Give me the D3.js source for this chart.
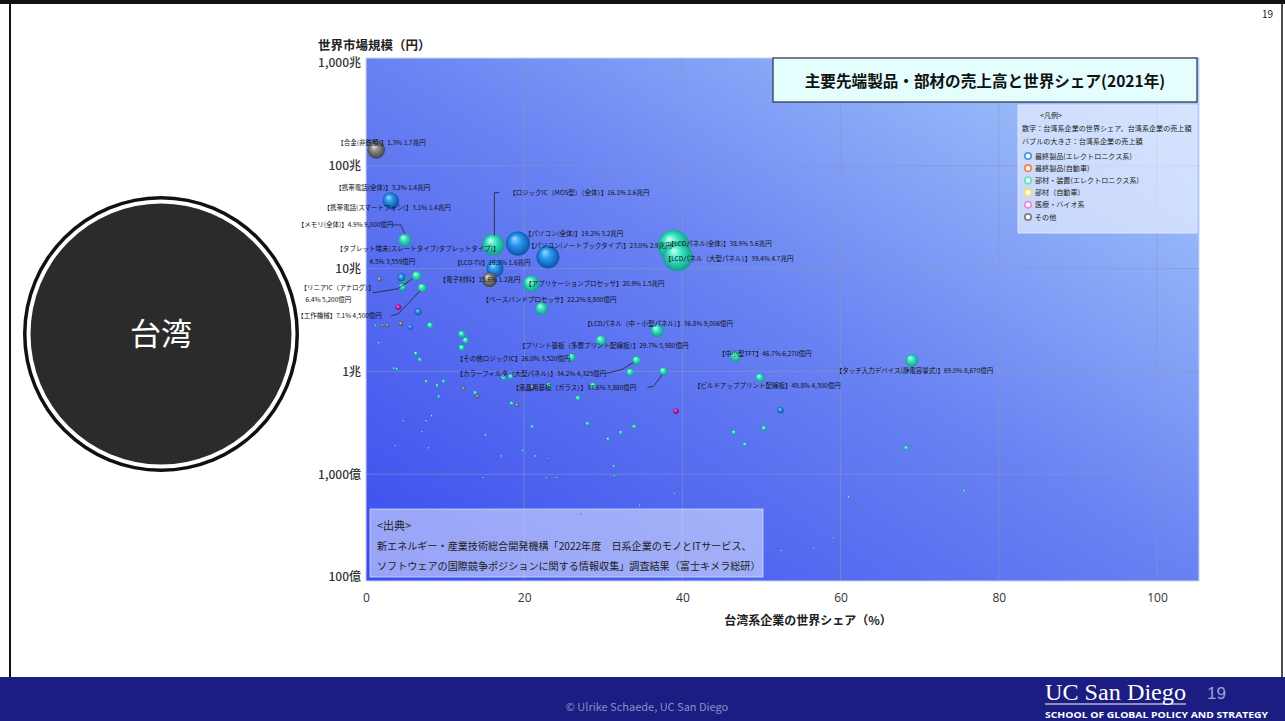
<!DOCTYPE html>
<html>
<head>
<meta charset="utf-8">
<script src="https://cdn.jsdelivr.net/npm/d3@7"></script>
<style>
  body { margin: 0; background: #fff; }
  text { font-family: "Noto Sans CJK JP", "Noto Sans", sans-serif; }
</style>
</head>
<body>
<div id="chart"></div>
<script>
// ---- data ----
const yTickValues = [1000, 100, 10, 1, 0.1, 0.01];   // 兆円
const yTickLabels = ["1,000兆", "100兆", "10兆", "1兆", "1,000億", "100億"];
const xTickValues = [0, 20, 40, 60, 80, 100];

// labelled products: name, Taiwan share (%), world market (兆円), Taiwan sales (億円), category
const names = [
  "【合金(非鉄類)】", "【携帯電話(全体)】", "【携帯電話(スマートフォン)】", "【メモリ(全体)】",
  "【タブレット端末(スレートタイプ/タブレットタイプ)】", "【ロジックIC（MOS型）（全体）】",
  "【パソコン(全体)】", "【パソコン(ノートブックタイプ)】", "【LCDパネル(全体)】",
  "【LCDパネル（大型パネル）】", "【LCD-TV】", "【電子材料】", "【アプリケーションプロセッサ】",
  "【ベースバンドプロセッサ】", "【LCDパネル（中・小型パネル）】", "【プリント基板（多層プリント配線板）】",
  "【その他ロジックIC】", "【カラーフィルタ（大型パネル）】", "【液晶用基板（ガラス）】", "【中小型TFT】",
  "【ビルドアッププリント配線板】", "【タッチ入力デバイス(静電容量式)】", "【リニアIC（アナログ）】", "【工作機械】"
];
const shares  = [1.3, 3.2, 3.1, 4.9, 4.5, 16.1, 19.2, 23.0, 38.9, 39.4, 16.3, 15.6, 20.9, 22.2, 36.8, 29.7, 26.0, 34.2, 37.6, 46.7, 49.8, 69.0, 6.4, 7.1];
const markets = [143, 45, 46, 19, 8.2, 17.1, 17.5, 13.0, 16.7, 13.1, 10.0, 7.8, 7.15, 4.1, 2.5, 2.0, 1.37, 1.28, 1.0, 1.4, 0.87, 1.28, 8.5, 6.5];
const sales   = [17000, 14000, 14000, 9000, 3559, 26000, 32000, 29000, 56000, 47000, 16000, 12000, 15000, 8800, 9006, 5980, 3520, 4325, 3880, 6270, 4300, 8670, 5200, 4500];
const cats    = ["g", "b", "b", "t", "b", "t", "b", "b", "t", "t", "b", "g", "t", "t", "t", "t", "t", "t", "t", "t", "t", "t", "t", "t"];

// unlabelled products: [share %, market 兆円, sales 億円, category]
const smallDots = [
  [1.7, 7.9, 1300, "g"], [4.7, 7.9, 3700, "t"], [4.6, 6.6, 3000, "t"], [4.1, 4.2, 1700, "m"],
  [6.6, 3.8, 2500, "b"], [1.2, 2.8, 340, "t"], [2.1, 2.8, 600, "g"], [2.7, 2.8, 760, "g"],
  [4.4, 2.9, 1250, "g"], [5.6, 2.7, 1500, "b"], [8.1, 2.8, 2300, "t"], [12.1, 2.3, 2800, "t"],
  [12.6, 2.0, 2500, "t"], [12.1, 1.7, 2100, "t"], [1.6, 1.9, 300, "t"], [6.3, 1.5, 960, "t"],
  [6.8, 1.3, 900, "t"], [3.5, 1.07, 370, "t"], [3.9, 1.05, 400, "t"], [7.6, 0.8, 610, "t"],
  [9.0, 0.73, 660, "t"], [9.8, 0.8, 780, "t"], [17.4, 0.87, 1500, "t"], [18.3, 0.89, 1600, "t"],
  [12.3, 0.68, 840, "g"], [13.8, 0.62, 860, "t"], [14.1, 0.57, 800, "g"], [18.4, 0.49, 900, "t"],
  [19.1, 0.47, 890, "g"], [21.0, 0.70, 1470, "g"], [23.1, 0.73, 1690, "t"], [28.7, 0.73, 2100, "t"],
  [26.8, 0.55, 1460, "t"], [9.2, 0.57, 500, "t"], [33.4, 0.98, 3300, "t"], [39.2, 0.41, 1600, "m"],
  [52.4, 0.42, 2200, "b"], [46.5, 0.255, 1200, "t"], [47.9, 0.195, 930, "t"], [50.3, 0.28, 1400, "t"],
  [68.3, 0.18, 1240, "t"], [4.7, 0.33, 160, "t"], [7.6, 0.33, 250, "t"], [8.3, 0.37, 300, "t"],
  [7.1, 0.26, 180, "t"], [15.1, 0.24, 360, "t"], [21.0, 0.29, 610, "t"], [28.0, 0.31, 870, "t"],
  [30.6, 0.22, 680, "t"], [32.2, 0.255, 820, "t"], [33.9, 0.29, 990, "t"], [17.1, 0.15, 260, "t"],
  [17.9, 0.12, 210, "g"], [19.8, 0.17, 340, "t"], [21.4, 0.15, 320, "t"], [23.1, 0.14, 320, "g"],
  [24.1, 0.093, 220, "t"], [31.3, 0.12, 380, "t"], [22.8, 0.093, 210, "t"], [3.7, 0.19, 70, "t"],
  [7.9, 0.18, 140, "t"], [14.8, 0.093, 140, "t"], [39.0, 0.065, 250, "t"], [61.0, 0.06, 360, "t"],
  [34.6, 0.05, 170, "t"], [27.2, 0.041, 110, "t"], [75.6, 0.069, 520, "t"], [59.1, 0.024, 140, "t"],
  [52.5, 0.018, 96, "t"], [56.6, 0.019, 100, "t"], [31.4, 0.097, 300, "t"]
];

const legendLabels = ["最終製品(エレクトロニクス系)", "最終製品(自動車)", "部材・装置(エレクトロニクス系)", "部材（自動車）", "医療・バイオ系", "その他"];
const legendColors = ["#4a9ae0", "#f08a50", "#6ee0c0", "#f0e860", "#f08ad8", "#808080"];

// label placement relative to bubble centre (px); l2 = second line, leader = polyline
const labelLayout = [
  {dx: -39, dy: -7}, {dx: -56, dy: -14}, {dx: -67, dy: 7},
  {dx: -107, dy: -15, leader: [[-13, -15], [-4, -15], [0, -6]]},
  {dx: -65, dy: -29, l2: [-32, -16]},
  {dx: 16, dy: -52, leader: [[6, -52], [1, -52], [1, -9]]},
  {dx: 7, dy: -10}, {dx: -20, dy: -11}, {dx: -6, dy: -2}, {dx: -13, dy: 2},
  {dx: -41, dy: -6}, {dx: -50, dy: 0}, {dx: -6, dy: 0}, {dx: -59, dy: -9},
  {dx: -73, dy: -7}, {dx: -82, dy: 5}, {dx: -115, dy: 1},
  {dx: -180, dy: 13, leader: [[-31, 13], [-14, 9], [-3, 2]]},
  {dx: -151, dy: 16, leader: [[-16, 16], [-10, 15], [-1, 3]]},
  {dx: -17, dy: -3}, {dx: -66, dy: 8}, {dx: -76, dy: 10},
  {dx: -116, dy: 12, l2: [-111, 24], leader: [[-44, 17], [-19, 13], [-4, 3]]},
  {dx: -125, dy: 28, leader: [[-31, 28], [-24, 26], [-2, 3]]}
];

// ---- drawing ----
const W = 1285, H = 721;
const svg = d3.select("#chart").append("svg").attr("width", W).attr("height", H);
const defs = svg.append("defs");

// slide frame
svg.append("rect").attr("x", 0).attr("y", 0).attr("width", W).attr("height", 4).attr("fill", "#111");
svg.append("line").attr("x1", 10).attr("x2", 10).attr("y1", 0).attr("y2", 677).attr("stroke", "#111").attr("stroke-width", 2);
svg.append("line").attr("x1", 1282).attr("x2", 1282).attr("y1", 0).attr("y2", 677).attr("stroke", "#111").attr("stroke-width", 1.5);
svg.append("text").attr("x", 1262).attr("y", 18).attr("font-size", 10).attr("fill", "#222").text("19");

// plot area
const plot = {left: 366, right: 1199, top: 58, bottom: 581};
const x = d3.scaleLinear().domain([0, 100]).range([366, 1157]);
const y = d3.scaleLog().domain([0.01, 1000]).range([577, 63]);
const r = d3.scaleSqrt().domain([0, 56000]).range([0, 16]);

const bg = defs.append("linearGradient").attr("id", "bg")
  .attr("x1", 0).attr("y1", 1).attr("x2", 1).attr("y2", 0);
bg.append("stop").attr("offset", "0%").attr("stop-color", "#3a4cee");
bg.append("stop").attr("offset", "50%").attr("stop-color", "#6882f2");
bg.append("stop").attr("offset", "100%").attr("stop-color", "#abd0fc");

svg.append("rect")
  .attr("x", plot.left).attr("y", plot.top)
  .attr("width", plot.right - plot.left).attr("height", plot.bottom - plot.top)
  .attr("fill", "url(#bg)")
  .attr("stroke", "#c8d4f4").attr("stroke-width", 1);

// gridlines
svg.append("g")
  .selectAll("line.v").data(xTickValues.slice(1)).join("line")
  .attr("x1", d => x(d)).attr("x2", d => x(d))
  .attr("y1", plot.top).attr("y2", plot.bottom)
  .attr("stroke", "#8d97b8").attr("stroke-opacity", 0.55).attr("stroke-width", 1);
svg.append("g")
  .selectAll("line.h").data(yTickValues.slice(1, 5)).join("line")
  .attr("x1", plot.left).attr("x2", plot.right)
  .attr("y1", d => y(d)).attr("y2", d => y(d))
  .attr("stroke", "#8d97b8").attr("stroke-opacity", 0.55).attr("stroke-width", 1);

// axes
const yAxis = svg.append("g").attr("transform", `translate(${plot.left},0)`)
  .call(d3.axisLeft(y).tickValues(yTickValues).tickSize(0).tickPadding(5)
    .tickFormat((d, i) => yTickLabels[i]));
yAxis.select(".domain").remove();
yAxis.selectAll("text").attr("font-size", 12).attr("fill", "#333").attr("font-weight", 500)
  .style("font-family", '"Noto Sans CJK JP", sans-serif');

const xAxis = svg.append("g").attr("transform", `translate(0,${plot.bottom})`)
  .call(d3.axisBottom(x).tickValues(xTickValues).tickSize(0).tickPadding(12));
xAxis.select(".domain").remove();
xAxis.selectAll("text").attr("font-size", 12).attr("fill", "#333")
  .style("font-family", '"Open Sans", sans-serif');

svg.append("text").attr("x", 318).attr("y", 50).attr("font-size", 12.5).attr("font-weight", 700)
  .attr("fill", "#222").text("世界市場規模（円）");
svg.append("text").attr("x", 808).attr("y", 625).attr("text-anchor", "middle")
  .attr("font-size", 12).attr("font-weight", 700).attr("fill", "#222").text("台湾系企業の世界シェア（%）");

// sphere gradients
const sphere = {
  b: ["#9fdcff", "#2a98f0", "#0b4aa0"],
  t: ["#d0fff2", "#3be6c4", "#0e9484"],
  g: ["#e4e4e4", "#8c8c8c", "#383838"],
  m: ["#ffb8ea", "#e21ea8", "#7a0050"]
};
Object.entries(sphere).forEach(([k, c]) => {
  const g = defs.append("radialGradient").attr("id", "sp-" + k)
    .attr("cx", "50%").attr("cy", "50%").attr("r", "55%").attr("fx", "35%").attr("fy", "28%");
  g.append("stop").attr("offset", "0%").attr("stop-color", c[0]);
  g.append("stop").attr("offset", "40%").attr("stop-color", c[1]);
  g.append("stop").attr("offset", "100%").attr("stop-color", c[2]);
});

// source box
svg.append("rect").attr("x", 370).attr("y", 509).attr("width", 393).attr("height", 68)
  .attr("fill", "#e4ebff").attr("fill-opacity", 0.55).attr("stroke", "#dfe6ff").attr("stroke-opacity", 0.7);
const src = ["<出典>",
  "新エネルギー・産業技術総合開発機構「2022年度　日系企業のモノとITサービス、",
  "ソフトウェアの国際競争ポジションに関する情報収集」調査結果（富士キメラ総研）"];
svg.append("g").selectAll("text").data(src).join("text")
  .attr("x", 377).attr("y", (d, i) => 530 + i * 20)
  .attr("font-size", (d, i) => i === 0 ? 11 : 10.1).attr("fill", "#222").text(d => d);

// bubbles: unlabelled first, then labelled (large first)
const dots = smallDots.map(d => ({share: d[0], market: d[1], sales: d[2], cat: d[3]}));
const labelled = names.map((n, i) => ({
  name: n, share: shares[i], market: markets[i], sales: sales[i], cat: cats[i], lay: labelLayout[i]
}));
const allBubbles = dots.concat(labelled).sort((a, b) => b.sales - a.sales);

svg.append("g").selectAll("circle").data(allBubbles).join("circle")
  .attr("cx", d => x(d.share)).attr("cy", d => y(d.market))
  .attr("r", d => Math.max(1, r(d.sales)))
  .attr("fill", d => `url(#sp-${d.cat})`);

// labels + leaders
const fmtSales = v => v >= 10000 ? (v / 10000).toFixed(1) + "兆円" : d3.format(",")(v) + "億円";
const lab = svg.append("g");
labelled.forEach(d => {
  const cx = x(d.share), cy = y(d.market), L = d.lay;
  const tail = d.share.toFixed(1) + "% " + fmtSales(d.sales);
  if (L.l2) {
    lab.append("text").attr("x", cx + L.dx).attr("y", cy + L.dy + 2.3)
      .attr("font-size", 6.5).attr("fill", "#111").text(d.name);
    lab.append("text").attr("x", cx + L.l2[0]).attr("y", cy + L.l2[1] + 2.3)
      .attr("font-size", 6.5).attr("fill", "#111").text(tail);
  } else {
    lab.append("text").attr("x", cx + L.dx).attr("y", cy + L.dy + 2.3)
      .attr("font-size", 6.5).attr("fill", "#111").text(d.name + tail);
  }
  if (L.leader) {
    lab.append("path")
      .attr("d", d3.line()(L.leader.map(p => [cx + p[0], cy + p[1]])))
      .attr("fill", "none").attr("stroke", "#2a2a3a").attr("stroke-width", 0.9);
  }
});

// title box
svg.append("rect").attr("x", 773).attr("y", 58).attr("width", 424).attr("height", 44)
  .attr("fill", "#e4fdfd").attr("stroke", "#2a2f45").attr("stroke-width", 1.2);
svg.append("text").attr("x", 985).attr("y", 87).attr("text-anchor", "middle")
  .attr("font-size", 15.6).attr("font-weight", 700).attr("fill", "#111")
  .text("主要先端製品・部材の売上高と世界シェア(2021年)");

// legend box
svg.append("rect").attr("x", 1018).attr("y", 105).attr("width", 179).attr("height", 128)
  .attr("fill", "#f2f6ff").attr("fill-opacity", 0.62).attr("stroke", "#e8eeff").attr("stroke-opacity", 0.8);
const lg = svg.append("g").attr("font-size", 7.1).attr("fill", "#222");
lg.append("text").attr("x", 1040).attr("y", 118).text("<凡例>");
lg.append("text").attr("x", 1022).attr("y", 131).text("数字：台湾系企業の世界シェア、台湾系企業の売上額");
lg.append("text").attr("x", 1022).attr("y", 144).text("バブルの大きさ：台湾系企業の売上額");
legendLabels.forEach((t, i) => {
  lg.append("circle").attr("cx", 1028).attr("cy", 156 + i * 12.2).attr("r", 3.2)
    .attr("fill", "#fff").attr("stroke", legendColors[i]).attr("stroke-width", 1.8);
  lg.append("text").attr("x", 1035).attr("y", 158.5 + i * 12.2).text(t);
});

// big circle badge
svg.append("circle").attr("cx", 161).attr("cy", 334).attr("r", 138).attr("fill", "#111");
svg.append("circle").attr("cx", 161).attr("cy", 334).attr("r", 134.5).attr("fill", "#fff");
svg.append("circle").attr("cx", 161).attr("cy", 334).attr("r", 130.5).attr("fill", "#2b2b2b");
svg.append("text").attr("x", 161).attr("y", 345).attr("text-anchor", "middle")
  .attr("font-size", 31).attr("fill", "#fff").text("台湾");

// footer
svg.append("rect").attr("x", 0).attr("y", 677).attr("width", W).attr("height", 44).attr("fill", "#1c1d82");
svg.append("text").attr("x", 647).attr("y", 711).attr("text-anchor", "middle")
  .attr("font-size", 11).attr("fill", "#8b8fc4").text("© Ulrike Schaede, UC San Diego");
svg.append("text").attr("x", 1045).attr("y", 700).attr("font-size", 24)
  .attr("textLength", 141).attr("lengthAdjust", "spacingAndGlyphs")
  .style("font-family", '"Liberation Serif", serif').attr("fill", "#fff").text("UC San Diego");
svg.append("line").attr("x1", 1045).attr("x2", 1186).attr("y1", 704).attr("y2", 704)
  .attr("stroke", "#fff").attr("stroke-width", 1.2);
svg.append("text").attr("x", 1207).attr("y", 699).attr("font-size", 17)
  .style("font-family", '"Liberation Sans", sans-serif').attr("fill", "#9fa1cc").text("19");
svg.append("text").attr("x", 1045).attr("y", 718).attr("font-size", 8.2).attr("font-weight", 700)
  .attr("textLength", 223).attr("lengthAdjust", "spacingAndGlyphs")
  .style("font-family", '"Open Sans", sans-serif').attr("fill", "#fff").text("SCHOOL OF GLOBAL POLICY AND STRATEGY");
</script>
</body>
</html>
